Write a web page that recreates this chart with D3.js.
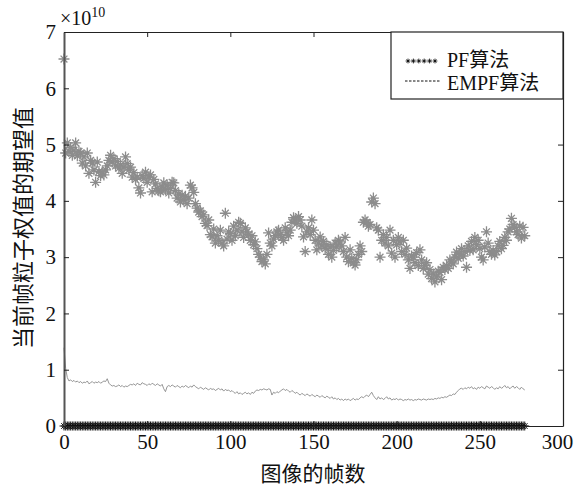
<!DOCTYPE html>
<html>
<head>
<meta charset="utf-8">
<script src="https://cdn.jsdelivr.net/npm/d3@7"></script>
<style>
  body { margin: 0; background: #fff; }
  .chart text { font-family: "Liberation Serif", "Noto Sans CJK SC", serif; fill: #111; }
</style>
</head>
<body>
<div class="chart"></div>
<script>
// frame index 0..277
var frames = d3.range(278);

// gray star series (x10^10), read frame by frame from the figure
var starValues = [
  6.52, 4.85, 5.03, 4.88, 4.95, 4.81, 4.90, 5.03, 4.80, 4.88,
  4.85, 4.67, 4.78, 4.62, 4.85, 4.49, 4.72, 4.67, 4.55, 4.33,
  4.69, 4.52, 4.45, 4.51, 4.46, 4.55, 4.62, 4.72, 4.81, 4.69,
  4.75, 4.62, 4.70, 4.58, 4.64, 4.49, 4.60, 4.78, 4.66, 4.55,
  4.60, 4.42, 4.50, 4.38, 4.42, 4.23, 4.14, 4.45, 4.40, 4.51,
  4.33, 4.42, 4.46, 4.16, 4.38, 4.30, 4.22, 4.18, 4.16, 4.25,
  4.32, 4.20, 4.28, 4.14, 4.22, 4.33, 4.32, 4.18, 4.05, 4.12,
  3.98, 4.10, 4.02, 4.08, 3.95, 4.05, 4.28, 4.23, 4.15, 3.95,
  3.87, 3.80, 3.82, 3.72, 3.75, 3.60, 3.56, 3.66, 3.40, 3.36,
  3.50, 3.25, 3.38, 3.30, 3.48, 3.25, 3.20, 3.78, 3.32, 3.45,
  3.42, 3.30, 3.55, 3.38, 3.48, 3.62, 3.60, 3.45, 3.35, 3.52,
  3.45, 3.40, 3.30, 3.38, 3.22, 3.27, 3.15, 3.05, 3.00, 2.92,
  2.95, 2.88, 3.05, 3.43, 3.25, 3.20, 3.32, 3.38, 3.45, 3.48,
  3.40, 3.35, 3.30, 3.52, 3.43, 3.38, 3.48, 3.62, 3.70, 3.66,
  3.60, 3.72, 3.66, 3.55, 3.36, 3.10, 3.45, 3.52, 3.40, 3.66,
  3.48, 3.30, 3.13, 3.25, 3.36, 3.20, 3.28, 3.15, 3.22, 3.05,
  3.18, 3.00, 3.12, 3.25, 3.18, 3.30, 3.27, 3.20, 3.10, 3.35,
  3.00, 2.92, 3.13, 2.98, 2.90, 2.86, 2.95, 3.05, 3.20, 3.10,
  3.62, 3.66, 3.62, 3.55, 3.58, 3.98, 4.05, 3.95, 3.52, 3.48,
  3.00, 3.30, 3.40, 3.25, 3.35, 3.20, 3.48, 3.07, 3.30, 3.00,
  3.22, 3.35, 3.27, 3.10, 3.30, 3.05, 3.16, 2.95, 2.80, 3.02,
  3.00, 2.90, 3.08, 2.85, 3.13, 2.95, 2.80, 2.85, 2.90, 2.70,
  2.78, 2.62, 2.70, 2.56, 2.65, 2.75, 2.73, 2.60, 2.82, 2.78,
  2.85, 2.80, 2.95, 2.91, 2.88, 3.00, 3.09, 2.98, 3.05, 3.15,
  3.02, 3.10, 2.82, 3.20, 3.12, 3.28, 3.13, 3.35, 3.22, 3.30,
  3.15, 3.00, 2.95, 3.18, 3.45, 3.25, 3.10, 3.05, 3.12, 3.04,
  3.10, 3.20, 3.28, 3.15, 3.21, 3.35, 3.30, 3.45, 3.50, 3.69,
  3.58, 3.53, 3.45, 3.40, 3.55, 3.34, 3.53, 3.38
];

// EMPF series (thin gray line)
var empfValues = [
  1.39, 1.02, 0.86, 0.80, 0.82, 0.79, 0.81, 0.78, 0.80, 0.77,
  0.79, 0.76, 0.78, 0.77, 0.80, 0.75, 0.77, 0.79, 0.76, 0.78,
  0.77, 0.79, 0.76, 0.78, 0.80, 0.79, 0.84, 0.76, 0.73, 0.71,
  0.72, 0.70, 0.71, 0.73, 0.70, 0.72, 0.69, 0.71, 0.70, 0.72,
  0.74, 0.73, 0.75, 0.72, 0.76, 0.74, 0.73, 0.77, 0.75, 0.74,
  0.72, 0.75, 0.73, 0.76, 0.74, 0.72, 0.75, 0.73, 0.71, 0.74,
  0.66, 0.61, 0.70, 0.72, 0.70, 0.73, 0.71, 0.69, 0.72, 0.70,
  0.68, 0.71, 0.69, 0.72, 0.70, 0.68, 0.71, 0.69, 0.73, 0.70,
  0.68, 0.66, 0.69, 0.67, 0.65, 0.68, 0.66, 0.64, 0.67, 0.65,
  0.66, 0.63, 0.65, 0.67, 0.64, 0.66, 0.62, 0.65, 0.63, 0.64,
  0.61, 0.63, 0.60, 0.58, 0.61, 0.57, 0.59, 0.56, 0.58, 0.60,
  0.57, 0.59, 0.56, 0.60, 0.58, 0.62, 0.64, 0.63, 0.65, 0.64,
  0.66, 0.65, 0.64, 0.66, 0.65, 0.55, 0.60, 0.58, 0.61, 0.59,
  0.62, 0.64, 0.66, 0.63, 0.65, 0.62, 0.60, 0.63, 0.61, 0.58,
  0.60, 0.57, 0.55, 0.58, 0.56, 0.54, 0.57, 0.55, 0.53, 0.56,
  0.54, 0.52, 0.55, 0.53, 0.51, 0.54, 0.52, 0.50, 0.53, 0.51,
  0.49, 0.52, 0.48, 0.50, 0.47, 0.49, 0.46, 0.48, 0.45, 0.48,
  0.46, 0.48, 0.45, 0.47, 0.49, 0.46, 0.48, 0.47, 0.50, 0.52,
  0.50, 0.53, 0.55, 0.52, 0.56, 0.60, 0.54, 0.50, 0.47, 0.52,
  0.48, 0.50, 0.47, 0.49, 0.52, 0.48, 0.50, 0.46, 0.48, 0.47,
  0.49, 0.46, 0.48, 0.47, 0.45, 0.47, 0.46, 0.48, 0.46, 0.47,
  0.45, 0.47, 0.46, 0.48, 0.47, 0.46, 0.48, 0.47, 0.46, 0.48,
  0.47, 0.48, 0.47, 0.49, 0.48, 0.50, 0.49, 0.51, 0.50, 0.52,
  0.51, 0.53, 0.55, 0.54, 0.57, 0.56, 0.60, 0.63, 0.66, 0.67,
  0.65, 0.68, 0.66, 0.69, 0.67, 0.70, 0.66, 0.68, 0.65, 0.69,
  0.67, 0.70, 0.68, 0.66, 0.71, 0.69, 0.67, 0.70, 0.68, 0.65,
  0.68, 0.66, 0.70, 0.67, 0.69, 0.72, 0.68, 0.70, 0.66, 0.69,
  0.71, 0.67, 0.70, 0.68, 0.65, 0.69, 0.66, 0.64
];

// PF series: every frame reads as 0 on this scale
var pfValues = frames.map(function() { return 0; });

var xTicks = [0, 50, 100, 150, 200, 250, 300];
var yTicks = [0, 1, 2, 3, 4, 5, 6, 7];
var legendLabels = ["PF算法", "EMPF算法"];

function starPath(r) {
  var a = r * 0.62;
  return "M" + (-r) + ",0H" + r + "M0," + (-r) + "V" + r +
    "M" + (-a) + "," + (-a) + "L" + a + "," + a +
    "M" + (-a) + "," + a + "L" + a + "," + (-a);
}

function drawChart() {
  var width = 574, height = 487;
  var left = 64, right = 563, top = 32, bottom = 426;

  var svg = d3.select(".chart").append("svg")
    .attr("width", width)
    .attr("height", height);

  var x = d3.scaleLinear().domain([0, 300]).range([left, right]);
  var y = d3.scaleLinear().domain([0, 7]).range([bottom, top]);

  // gray star markers
  svg.append("g")
    .selectAll("path")
    .data(frames)
    .enter().append("path")
      .attr("transform", function(d) { return "translate(" + x(d) + "," + y(starValues[d]) + ")"; })
      .attr("d", starPath(5.5))
      .attr("stroke", "#8c8c8c")
      .attr("stroke-width", 1.3)
      .attr("fill", "none");

  // EMPF line
  var line = d3.line()
    .x(function(d) { return x(d); })
    .y(function(d) { return y(empfValues[d]); });

  svg.append("path")
    .datum(frames)
    .attr("d", line)
    .attr("fill", "none")
    .attr("stroke", "#8a8a8a")
    .attr("stroke-width", 0.9);

  // PF black stars
  svg.append("g")
    .selectAll("path")
    .data(frames)
    .enter().append("path")
      .attr("transform", function(d) { return "translate(" + x(d) + "," + y(pfValues[d]) + ")"; })
      .attr("d", starPath(4.5))
      .attr("stroke", "#111")
      .attr("stroke-width", 1)
      .attr("fill", "none");

  // axes, ticks pointing inward
  var xAxis = svg.append("g")
      .attr("transform", "translate(0," + bottom + ")")
      .call(d3.axisBottom(x).tickValues(xTicks).tickSizeInner(-5).tickSizeOuter(0).tickPadding(8))
      .call(styleAxis);
  // last label pulled in so it stays inside the page
  xAxis.selectAll(".tick text").filter(function(d) { return d === 300; }).attr("dx", -6);

  svg.append("g")
      .attr("transform", "translate(0," + top + ")")
      .call(d3.axisTop(x).tickValues(xTicks).tickSizeInner(-5).tickSizeOuter(0).tickFormat(""))
      .call(styleAxis);

  var yAxis = svg.append("g")
      .attr("transform", "translate(" + left + ",0)")
      .call(d3.axisLeft(y).tickValues(yTicks).tickFormat(d3.format("d")).tickSizeInner(-5).tickSizeOuter(0).tickPadding(8))
      .call(styleAxis);
  yAxis.select(".domain").attr("stroke", "#555").attr("stroke-width", 2);

  svg.append("g")
      .attr("transform", "translate(" + right + ",0)")
      .call(d3.axisRight(y).tickValues(yTicks).tickSizeInner(-5).tickSizeOuter(0).tickFormat(""))
      .call(styleAxis);

  function styleAxis(g) {
    g.select(".domain").attr("stroke", "#222").attr("stroke-width", 1.2);
    g.selectAll(".tick line").attr("stroke", "#222").attr("stroke-width", 1);
    g.selectAll(".tick text")
      .attr("font-size", 21)
      .attr("fill", "#111");
  }

  // exponent label
  var ex = svg.append("text")
    .attr("x", 60)
    .attr("y", 25)
    .attr("font-size", 20);
  ex.append("tspan").text("×10");
  ex.append("tspan").attr("dy", -8).attr("font-size", 14).text("10");

  // axis titles
  svg.append("text")
    .attr("x", 313)
    .attr("y", 481)
    .attr("text-anchor", "middle")
    .attr("font-size", 21)
    .text("图像的帧数");

  svg.append("text")
    .attr("transform", "translate(31,228) rotate(-90)")
    .attr("text-anchor", "middle")
    .attr("font-size", 22)
    .text("当前帧粒子权值的期望值");

  // legend
  var legend = svg.append("g");
  legend.append("rect")
    .attr("x", 391)
    .attr("y", top)
    .attr("width", right - 391)
    .attr("height", 67)
    .attr("fill", "#fff")
    .attr("stroke", "#222")
    .attr("stroke-width", 1.2);

  legend.selectAll("path.lm")
    .data(d3.range(6))
    .enter().append("path")
      .attr("class", "lm")
      .attr("transform", function(d) { return "translate(" + (408 + d * 5.4) + ",61)"; })
      .attr("d", starPath(2.4))
      .attr("stroke", "#111")
      .attr("stroke-width", 0.9)
      .attr("fill", "none");

  legend.append("line")
    .attr("x1", 405).attr("x2", 440)
    .attr("y1", 81).attr("y2", 81)
    .attr("stroke", "#111")
    .attr("stroke-width", 1)
    .attr("stroke-dasharray", "2.5,1.5");

  legend.selectAll("text")
    .data(legendLabels)
    .enter().append("text")
      .attr("x", 447)
      .attr("y", function(d, i) { return 67 + i * 23; })
      .attr("font-size", 20)
      .text(function(d) { return d; });
}

drawChart();
</script>
</body>
</html>
